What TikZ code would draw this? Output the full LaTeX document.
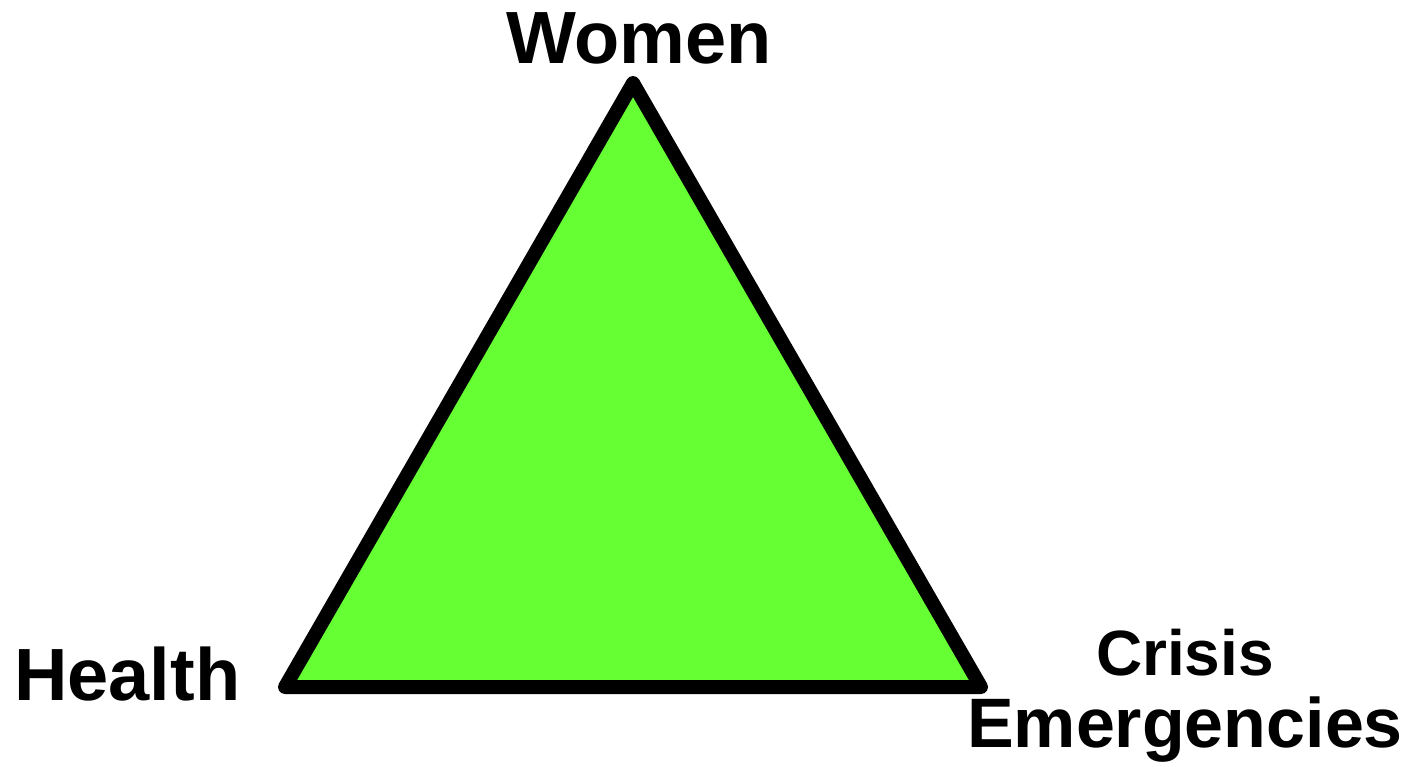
\documentclass[tikz,border=0pt]{standalone}
\usepackage{fontspec}
\setmainfont{Liberation Sans}
\begin{document}
\begin{tikzpicture}[x=1pt,y=-1pt,
  lbl/.style={inner sep=0pt,font=\bfseries\fontsize{74}{80}\selectfont},
  lbls/.style={inner sep=0pt,font=\bfseries\fontsize{70}{76}\selectfont},
  lblc/.style={inner sep=0pt,font=\bfseries\fontsize{64}{70}\selectfont}]
\useasboundingbox (0,0) rectangle (1415,766);
\definecolor{trigreen}{RGB}{102,255,51}
\coordinate (top) at (633,83);
\coordinate (bl) at (285,687);
\coordinate (br) at (981,687);
\draw[line width=14pt,line join=round,fill=trigreen] (top) -- (bl) -- (br) -- cycle;
\node[lbl,anchor=base] (women) at (639,63) {Women};
\node[lbl,anchor=base west] (health) at (14,700) {Health};
\node[lblc,anchor=base] (crisis) at (1185,675) {Crisis};
\node[lbls,anchor=base] (emerg) at (1185,747) {Emergencies};
\end{tikzpicture}
\end{document}
